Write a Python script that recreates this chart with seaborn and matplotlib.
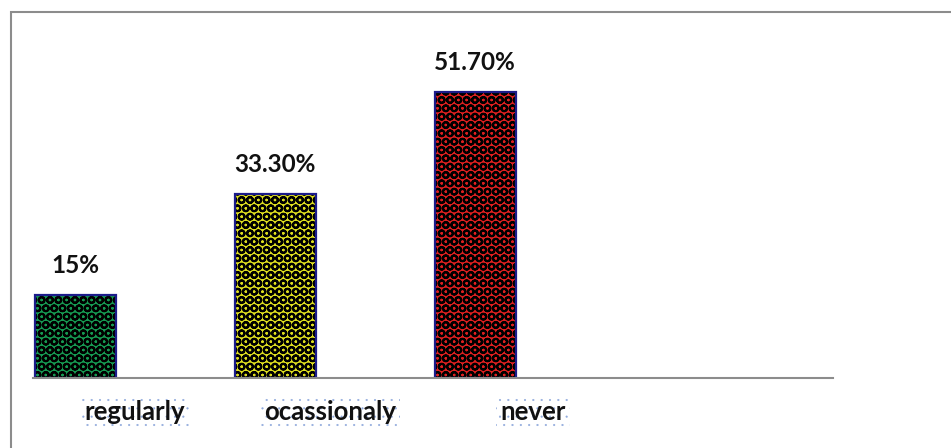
import matplotlib
matplotlib.use("Agg")
import matplotlib.pyplot as plt
from matplotlib.patches import Rectangle
import seaborn as sns
import pandas as pd

categories = ["regularly", "ocassionaly", "never"]
values = [15.0, 33.3, 51.7]
value_labels = ["15%", "33.30%", "51.70%"]
bar_colors = ["#00b050", "#ffff00", "#ff0000"]

sns.set_theme(style="white")
plt.rcParams["font.family"] = ["Lato", "DejaVu Sans"]
plt.rcParams["hatch.linewidth"] = 1.5

df = pd.DataFrame({"category": categories, "share": values})

fig = plt.figure(figsize=(9.51, 4.48), dpi=100)
ax = fig.add_axes([33 / 951, 70 / 448, 800 / 951, 348 / 448])

sns.barplot(data=df, x="category", y="share", hue="category",
            palette=bar_colors, width=0.405, legend=False, ax=ax,
            edgecolor="black", linewidth=0, hatch="OO")

# dark outline over each hatched bar
for p in list(ax.patches):
    ax.add_patch(Rectangle(p.get_xy(), p.get_width(), p.get_height(),
                           fill=False, edgecolor="#1c1c8a", linewidth=1.6,
                           zorder=p.get_zorder() + 0.1))

for i, (v, lab) in enumerate(zip(values, value_labels)):
    ax.annotate(lab, (i, v), xytext=(0, 13), textcoords="offset points",
                ha="center", va="bottom", fontsize=17.5, fontweight="bold",
                color="#111111")

ax.set_xlim(-0.21, 3.79)
ax.set_ylim(0, 62.9)
ax.set_yticks([])
ax.set_xlabel("")
ax.set_ylabel("")
for side in ["top", "right", "left"]:
    ax.spines[side].set_visible(False)
ax.spines["bottom"].set_color("#8c8c8c")
ax.spines["bottom"].set_linewidth(1.5)

label_shift = [0.3, 0.275, 0.29]
ax.set_xticks([i + s for i, s in enumerate(label_shift)])
ax.set_xticklabels(categories, fontsize=18.5, fontweight="bold", color="#111111")
ax.tick_params(axis="x", length=0, pad=16)

# fine dotted backdrop behind the category names
plt.rcParams["hatch.linewidth"] = 0.3
for t in ax.get_xticklabels():
    t.set_bbox(dict(facecolor="white", edgecolor="#8fa9dc", hatch="..",
                    linewidth=0, pad=3))

# chart frame
fig.patches.append(Rectangle((11 / 951, -0.1), 1.2, (448 - 12) / 448 + 0.1,
                             transform=fig.transFigure, fill=False,
                             edgecolor="#8c8c8c", linewidth=1.5))

fig.savefig("out.png", dpi=100)
